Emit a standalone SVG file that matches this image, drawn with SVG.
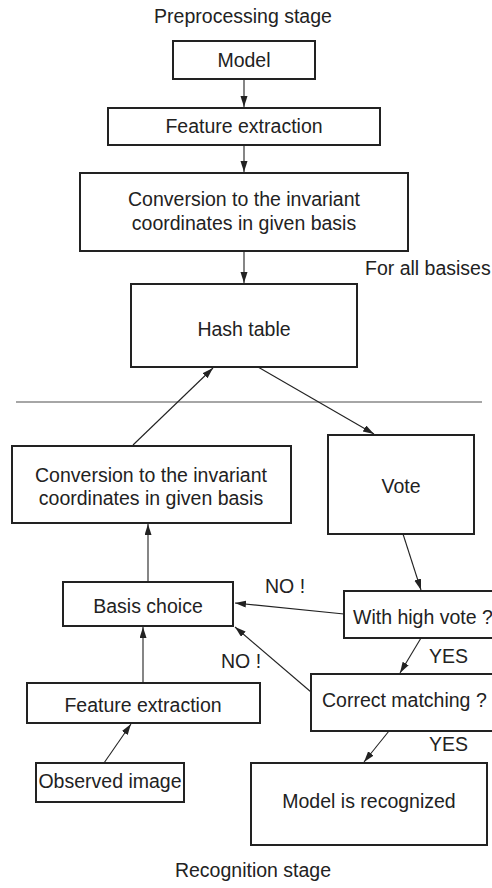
<svg xmlns="http://www.w3.org/2000/svg" width="492" height="888" viewBox="0 0 492 888">
  <style>
    .box { fill: #ffffff; stroke: #222222; stroke-width: 2; }
    .lbl { font-family: "Liberation Sans", Arial, sans-serif; font-size: 19.5px; fill: #222222; }
    .mid { text-anchor: middle; }
    .edge { fill: none; stroke: #222222; stroke-width: 1.1; marker-end: url(#arrow); }
    .divider { stroke: #888888; stroke-width: 1.5; }
  </style>
  <defs>
    <marker id="arrow" markerUnits="userSpaceOnUse" markerWidth="12" markerHeight="8" refX="11" refY="3.5" orient="auto">
      <path d="M0,0 L11,3.5 L0,7 z" fill="#222222"/>
    </marker>
  </defs>

  <rect width="492" height="888" fill="#ffffff"/>

  <!-- stage captions -->
  <text class="lbl mid" x="243" y="23">Preprocessing stage</text>
  <text class="lbl mid" x="253" y="877">Recognition stage</text>
  <text class="lbl" x="365" y="275">For all basises</text>

  <!-- separator between the two stages -->
  <line class="divider" x1="16" y1="402" x2="482" y2="402"/>

  <!-- preprocessing stage -->
  <g id="model">
    <rect class="box" x="173" y="41" width="142" height="38"/>
    <text class="lbl mid" x="244" y="67">Model</text>
  </g>
  <g id="feature-extraction-pre">
    <rect class="box" x="108" y="108" width="272" height="37"/>
    <text class="lbl mid" x="244" y="133">Feature extraction</text>
  </g>
  <g id="conversion-pre">
    <rect class="box" x="80" y="173" width="328" height="78"/>
    <text class="lbl mid" x="244" y="206">Conversion to the invariant</text>
    <text class="lbl mid" x="244" y="230">coordinates in given basis</text>
  </g>
  <g id="hash-table">
    <rect class="box" x="131" y="284" width="226" height="83"/>
    <text class="lbl mid" x="244" y="336">Hash table</text>
  </g>

  <!-- recognition stage -->
  <g id="conversion-rec">
    <rect class="box" x="12" y="446" width="279" height="77"/>
    <text class="lbl mid" x="151" y="482">Conversion to the invariant</text>
    <text class="lbl mid" x="151" y="505">coordinates in given basis</text>
  </g>
  <g id="vote">
    <rect class="box" x="328" y="435" width="146" height="99"/>
    <text class="lbl mid" x="401" y="493">Vote</text>
  </g>
  <g id="basis-choice">
    <rect class="box" x="63" y="582" width="170" height="44"/>
    <text class="lbl mid" x="148" y="613">Basis choice</text>
  </g>
  <g id="high-vote">
    <rect class="box" x="344" y="591" width="160" height="47"/>
    <text class="lbl" x="353" y="624">With high vote ?</text>
  </g>
  <g id="correct-matching">
    <rect class="box" x="311" y="674" width="193" height="57"/>
    <text class="lbl" x="322" y="707">Correct matching ?</text>
  </g>
  <g id="feature-extraction-rec">
    <rect class="box" x="27" y="683" width="233" height="40"/>
    <text class="lbl mid" x="143" y="712">Feature extraction</text>
  </g>
  <g id="observed-image">
    <rect class="box" x="36" y="763" width="148" height="39"/>
    <text class="lbl mid" x="110" y="788">Observed image</text>
  </g>
  <g id="model-recognized">
    <rect class="box" x="251" y="763" width="236" height="82"/>
    <text class="lbl mid" x="369" y="808">Model is recognized</text>
  </g>

  <!-- connectors -->
  <g id="connectors">
    <line class="edge" x1="244" y1="79" x2="244" y2="107"/>
    <line class="edge" x1="244" y1="145" x2="244" y2="172"/>
    <line class="edge" x1="244" y1="251" x2="244" y2="283"/>
    <line class="edge" x1="133" y1="445" x2="213" y2="368"/>
    <line class="edge" x1="258" y1="367" x2="374" y2="434"/>
    <line class="edge" x1="403" y1="534" x2="421" y2="590"/>
    <line class="edge" x1="148" y1="582" x2="148" y2="524"/>
    <line class="edge" x1="344" y1="614" x2="235" y2="603"/>
    <line class="edge" x1="421" y1="638" x2="400" y2="673"/>
    <line class="edge" x1="311" y1="692" x2="235" y2="627"/>
    <line class="edge" x1="389" y1="731" x2="364" y2="762"/>
    <line class="edge" x1="143" y1="683" x2="143" y2="627"/>
    <line class="edge" x1="104" y1="763" x2="131" y2="724"/>
    <text class="lbl" x="265" y="593">NO !</text>
    <text class="lbl" x="221" y="668">NO !</text>
    <text class="lbl" x="429" y="663">YES</text>
    <text class="lbl" x="429" y="751">YES</text>
  </g>
</svg>
